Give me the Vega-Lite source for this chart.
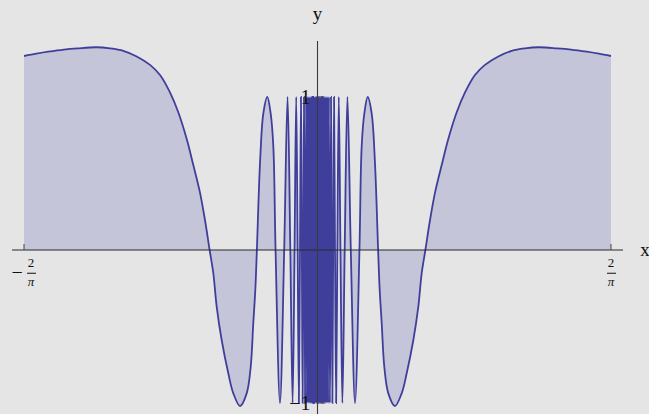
{
"$schema": "https://vega.github.io/schema/vega-lite/v6.json",
"width": 611, "height": 373,
"autosize": {"type": "none"},
"padding": {"left": 12, "top": 41, "right": 26, "bottom": 0},
"background": "#e5e5e5",
"config": {"view": {"stroke": null}, "text": {"font": "Liberation Serif", "color": "#111"}},
"datasets": {"curve": [
{"x":-0.6366,"y":1.268},{"x":-0.61,"y":1.283},{"x":-0.584,"y":1.296},{"x":-0.55,"y":1.31},{"x":-0.52,"y":1.318},{"x":-0.48,"y":1.325},{"x":-0.4501,"y":1.318},{"x":-0.4213,"y":1.302},{"x":-0.3922,"y":1.265},{"x":-0.3633,"y":1.21},{"x":-0.3416,"y":1.144},{"x":-0.32,"y":1.03},{"x":-0.302,"y":0.9},{"x":-0.2837,"y":0.725},{"x":-0.2694,"y":0.555},{"x":-0.2549,"y":0.375},{"x":-0.2441,"y":0.196},{"x":-0.234,"y":0},
{"x":-0.226,"y":-0.152},{"x":-0.2187,"y":-0.37},{"x":-0.2078,"y":-0.59},{"x":-0.1935,"y":-0.806},{"x":-0.1826,"y":-0.937},{"x":-0.1681,"y":-1.02},{"x":-0.1536,"y":-0.937},{"x":-0.1449,"y":-0.763},{"x":-0.1393,"y":-0.479},{"x":-0.1349,"y":-0.26},{"x":-0.1315,"y":0},
{"x":-0.1247,"y":0.567},{"x":-0.1175,"y":0.893},{"x":-0.1089,"y":1.0},{"x":-0.1016,"y":0.893},{"x":-0.0958,"y":0.675},{"x":-0.091,"y":0},
{"x":-0.0814,"y":-1},{"x":-0.07225,"y":0},{"x":-0.06494,"y":1},{"x":-0.05896,"y":0},{"x":-0.054,"y":-1},{"x":-0.0498,"y":0},{"x":-0.04621,"y":1},{"x":-0.0431,"y":0},{"x":-0.04039,"y":-1},{"x":-0.03799,"y":0},{"x":-0.03587,"y":1},{"x":-0.03397,"y":0},{"x":-0.03226,"y":-1},{"x":-0.03071,"y":0},
{"x":-0.02931,"y":1},{"x":-0.02685,"y":-1},{"x":-0.02478,"y":1},{"x":-0.023,"y":-1},{"x":-0.02146,"y":1},{"x":-0.02011,"y":-1},{"x":-0.01893,"y":1},{"x":-0.01787,"y":-1},{"x":-0.01693,"y":1},{"x":-0.01608,"y":-1},{"x":-0.01531,"y":1},{"x":-0.01461,"y":-1},{"x":-0.01397,"y":1},{"x":-0.01339,"y":-1},{"x":-0.01285,"y":1},{"x":-0.01236,"y":-1},{"x":-0.0119,"y":1},{"x":-0.01147,"y":-1},{"x":-0.01108,"y":1},{"x":-0.01071,"y":-1},{"x":-0.01036,"y":1},{"x":-0.01004,"y":-1},{"x":-0.00973,"y":1},{"x":-0.00944,"y":-1},{"x":-0.00917,"y":1},{"x":-0.00892,"y":-1},{"x":-0.00868,"y":1},{"x":-0.00845,"y":-1},{"x":-0.00823,"y":1},{"x":-0.00803,"y":-1},{"x":-0.00783,"y":1},
{"x":-0.0072,"y":-1},{"x":-0.0065,"y":1},{"x":-0.0058,"y":-1},{"x":-0.0051,"y":1},{"x":-0.0044,"y":-1},{"x":-0.0037,"y":1},{"x":-0.003,"y":-1},{"x":-0.0023,"y":1},{"x":-0.0016,"y":-1},{"x":-0.0009,"y":1},
{"x":0.0009,"y":1},{"x":0.0016,"y":-1},{"x":0.0023,"y":1},{"x":0.003,"y":-1},{"x":0.0037,"y":1},{"x":0.0044,"y":-1},{"x":0.0051,"y":1},{"x":0.0058,"y":-1},{"x":0.0065,"y":1},{"x":0.0072,"y":-1},
{"x":0.00783,"y":1},{"x":0.00803,"y":-1},{"x":0.00823,"y":1},{"x":0.00845,"y":-1},{"x":0.00868,"y":1},{"x":0.00892,"y":-1},{"x":0.00917,"y":1},{"x":0.00944,"y":-1},{"x":0.00973,"y":1},{"x":0.01004,"y":-1},{"x":0.01036,"y":1},{"x":0.01071,"y":-1},{"x":0.01108,"y":1},{"x":0.01147,"y":-1},{"x":0.0119,"y":1},{"x":0.01236,"y":-1},{"x":0.01285,"y":1},{"x":0.01339,"y":-1},{"x":0.01397,"y":1},{"x":0.01461,"y":-1},{"x":0.01531,"y":1},{"x":0.01608,"y":-1},{"x":0.01693,"y":1},{"x":0.01787,"y":-1},{"x":0.01893,"y":1},{"x":0.02011,"y":-1},{"x":0.02146,"y":1},{"x":0.023,"y":-1},{"x":0.02478,"y":1},{"x":0.02685,"y":-1},{"x":0.02931,"y":1},
{"x":0.03071,"y":0},{"x":0.03226,"y":-1},{"x":0.03397,"y":0},{"x":0.03587,"y":1},{"x":0.03799,"y":0},{"x":0.04039,"y":-1},{"x":0.0431,"y":0},{"x":0.04621,"y":1},{"x":0.0498,"y":0},{"x":0.054,"y":-1},{"x":0.05896,"y":0},{"x":0.06494,"y":1},{"x":0.07225,"y":0},{"x":0.0814,"y":-1},
{"x":0.091,"y":0},{"x":0.0958,"y":0.675},{"x":0.1016,"y":0.893},{"x":0.1089,"y":1.0},{"x":0.1175,"y":0.893},{"x":0.1247,"y":0.567},{"x":0.1315,"y":0},
{"x":0.1349,"y":-0.26},{"x":0.1393,"y":-0.479},{"x":0.1449,"y":-0.763},{"x":0.1536,"y":-0.937},{"x":0.1681,"y":-1.02},{"x":0.1826,"y":-0.937},{"x":0.1935,"y":-0.806},{"x":0.2078,"y":-0.59},{"x":0.2187,"y":-0.37},{"x":0.226,"y":-0.152},
{"x":0.234,"y":0},{"x":0.2441,"y":0.196},{"x":0.2549,"y":0.375},{"x":0.2694,"y":0.555},{"x":0.2837,"y":0.725},{"x":0.302,"y":0.9},{"x":0.32,"y":1.03},{"x":0.3416,"y":1.144},{"x":0.3633,"y":1.21},{"x":0.3922,"y":1.265},{"x":0.4213,"y":1.302},{"x":0.4501,"y":1.318},{"x":0.48,"y":1.325},{"x":0.52,"y":1.318},{"x":0.55,"y":1.31},{"x":0.584,"y":1.296},{"x":0.61,"y":1.283},{"x":0.6366,"y":1.268}
]},
"layer": [
{"data": {"name": "curve"},
 "mark": {"type": "area", "interpolate": "catmull-rom", "color": "#c5c5d9", "opacity": 1},
 "encoding": {
  "x": {"field": "x", "type": "quantitative", "scale": {"domain": [-0.6627, 0.6627], "nice": false, "zero": false}, "axis": null},
  "y": {"field": "y", "type": "quantitative", "scale": {"domain": [-1.072, 1.366], "nice": false, "zero": false}, "axis": null},
  "y2": {"datum": 0}}},
{"data": {"name": "curve"},
 "mark": {"type": "line", "interpolate": "catmull-rom", "color": "#3f3f9b", "strokeWidth": 1.8},
 "encoding": {
  "x": {"field": "x", "type": "quantitative"},
  "y": {"field": "y", "type": "quantitative"}}},
{"data": {"values": [{}]}, "mark": {"type": "rule", "color": "#2a2a2a", "strokeWidth": 1.1},
 "encoding": {"y": {"datum": 0, "type": "quantitative"}}},
{"data": {"values": [{}]}, "mark": {"type": "rule", "color": "#3a3a3a", "strokeWidth": 1.1},
 "encoding": {"x": {"datum": 0, "type": "quantitative"}}},
{"data": {"values": [{"v": -0.63662}, {"v": 0.63662}]}, "mark": {"type": "rule", "color": "#444", "strokeWidth": 1},
 "encoding": {"x": {"field": "v", "type": "quantitative"}, "y": {"datum": 0, "type": "quantitative"}, "y2": {"datum": 0.039}}},
{"data": {"values": [{"v": 1}, {"v": -1}]}, "mark": {"type": "rule", "color": "#555", "strokeWidth": 1},
 "encoding": {"y": {"field": "v", "type": "quantitative"}, "x": {"datum": 0, "type": "quantitative"}, "x2": {"datum": 0.0152}}},
{"data": {"values": [{"v": 1, "t": "1"}, {"v": -1, "t": "−1"}]},
 "mark": {"type": "text", "align": "right", "baseline": "middle", "dx": -7, "dy": 1, "fontSize": 20},
 "encoding": {"x": {"datum": 0, "type": "quantitative"}, "y": {"field": "v", "type": "quantitative"}, "text": {"field": "t"}}},
{"data": {"values": [{}]}, "mark": {"type": "text", "text": "−", "align": "center", "baseline": "middle", "dx": -7, "dy": 23, "fontSize": 20},
 "encoding": {"x": {"datum": -0.63662, "type": "quantitative"}, "y": {"datum": 0, "type": "quantitative"}}},
{"data": {"values": [{}]}, "mark": {"type": "text", "text": "2", "align": "center", "baseline": "middle", "dx": 7, "dy": 13, "fontSize": 13},
 "encoding": {"x": {"datum": -0.63662, "type": "quantitative"}, "y": {"datum": 0, "type": "quantitative"}}},
{"data": {"values": [{}]}, "mark": {"type": "text", "text": "π", "align": "center", "baseline": "middle", "dx": 7, "dy": 32, "fontSize": 13, "fontStyle": "italic"},
 "encoding": {"x": {"datum": -0.63662, "type": "quantitative"}, "y": {"datum": 0, "type": "quantitative"}}},
{"data": {"values": [{}]}, "mark": {"type": "rule", "color": "#111", "strokeWidth": 1},
 "encoding": {"x": {"datum": -0.6302, "type": "quantitative"}, "x2": {"datum": -0.6106}, "y": {"datum": -0.152, "type": "quantitative"}}},
{"data": {"values": [{}]}, "mark": {"type": "text", "text": "2", "align": "center", "baseline": "middle", "dy": 13, "fontSize": 13},
 "encoding": {"x": {"datum": 0.63662, "type": "quantitative"}, "y": {"datum": 0, "type": "quantitative"}}},
{"data": {"values": [{}]}, "mark": {"type": "text", "text": "π", "align": "center", "baseline": "middle", "dy": 32, "fontSize": 13, "fontStyle": "italic"},
 "encoding": {"x": {"datum": 0.63662, "type": "quantitative"}, "y": {"datum": 0, "type": "quantitative"}}},
{"data": {"values": [{}]}, "mark": {"type": "rule", "color": "#111", "strokeWidth": 1},
 "encoding": {"x": {"datum": 0.628, "type": "quantitative"}, "x2": {"datum": 0.6475}, "y": {"datum": -0.152, "type": "quantitative"}}},
{"data": {"values": [{}]}, "mark": {"type": "text", "text": "x", "align": "center", "baseline": "middle", "dx": 22, "dy": 0, "fontSize": 19},
 "encoding": {"x": {"datum": 0.6627, "type": "quantitative"}, "y": {"datum": 0, "type": "quantitative"}}},
{"data": {"values": [{}]}, "mark": {"type": "text", "text": "y", "align": "center", "baseline": "middle", "dy": -27, "fontSize": 19},
 "encoding": {"x": {"datum": 0, "type": "quantitative"}, "y": {"datum": 1.366, "type": "quantitative"}}}
]
}
